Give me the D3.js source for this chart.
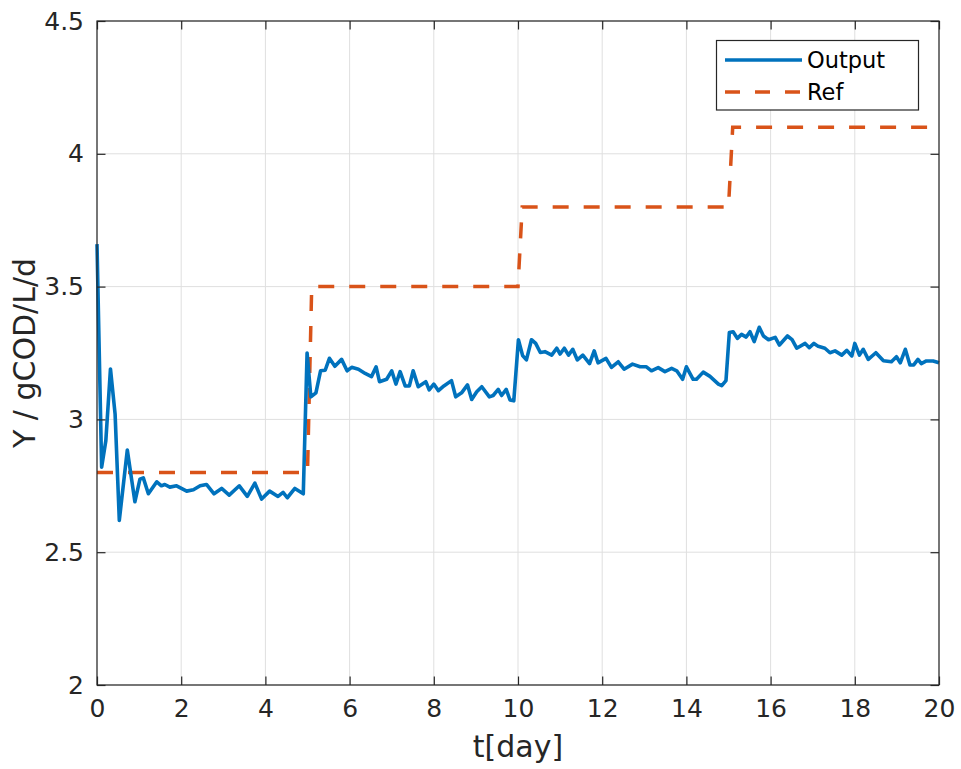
<!DOCTYPE html>
<html><head><meta charset="utf-8">
<script src="https://cdn.jsdelivr.net/npm/d3@7"></script>
<style>body{margin:0;background:#fff}svg{display:block}</style>
</head><body>
<script>
const outT = [0,0.11,0.21,0.32,0.43,0.53,0.72,0.9,1.02,1.1,1.22,1.42,1.53,1.61,1.73,1.89,2.13,2.29,2.45,2.6,2.78,2.96,3.14,3.38,3.57,3.75,3.91,4.1,4.3,4.42,4.52,4.7,4.9,
4.99,5.08,5.2,5.31,5.42,5.52,5.65,5.81,5.94,6.05,6.21,6.37,6.52,6.63,6.71,6.88,7.0,7.1,7.2,7.32,7.42,7.51,7.63,7.81,7.89,8.0,8.11,8.24,8.42,8.52,8.66,8.8,8.9,9.02,9.14,9.32,9.41,9.53,9.61,9.72,9.81,9.9,
10.01,10.11,10.2,10.32,10.42,10.53,10.64,10.8,10.92,11.0,11.1,11.2,11.3,11.41,11.54,11.7,11.81,11.9,12.09,12.22,12.38,12.52,12.72,12.9,13.05,13.17,13.33,13.49,13.65,13.77,13.91,14.0,14.16,14.24,14.4,14.56,14.76,14.84,14.94,
15.02,15.11,15.21,15.31,15.42,15.51,15.61,15.73,15.83,15.95,16.11,16.21,16.4,16.51,16.62,16.82,16.92,17.03,17.13,17.29,17.41,17.53,17.69,17.81,17.93,18.0,18.11,18.2,18.32,18.5,18.68,18.87,18.99,19.08,19.2,19.31,19.4,19.5,19.58,19.7,19.86,20];
const outY = [3.66,2.82,2.92,3.19,3.02,2.62,2.885,2.69,2.775,2.78,2.72,2.765,2.75,2.755,2.745,2.75,2.73,2.735,2.75,2.755,2.72,2.74,2.715,2.75,2.71,2.76,2.70,2.73,2.71,2.725,2.705,2.74,2.72,
3.25,3.085,3.10,3.183,3.185,3.23,3.20,3.226,3.183,3.196,3.189,3.173,3.161,3.198,3.142,3.151,3.183,3.133,3.18,3.126,3.126,3.183,3.123,3.142,3.111,3.133,3.108,3.126,3.146,3.085,3.10,3.13,3.075,3.104,3.123,3.085,3.09,3.113,3.09,3.113,3.073,3.07,
3.30,3.24,3.224,3.30,3.286,3.252,3.255,3.242,3.268,3.246,3.268,3.242,3.264,3.224,3.242,3.21,3.258,3.213,3.23,3.196,3.217,3.189,3.208,3.198,3.198,3.183,3.195,3.18,3.192,3.183,3.151,3.198,3.151,3.151,3.178,3.162,3.133,3.127,3.146,
3.327,3.33,3.305,3.32,3.31,3.33,3.293,3.347,3.314,3.30,3.309,3.28,3.314,3.30,3.268,3.286,3.27,3.286,3.275,3.268,3.251,3.258,3.242,3.26,3.239,3.286,3.242,3.264,3.226,3.251,3.221,3.217,3.236,3.213,3.264,3.205,3.205,3.226,3.21,3.22,3.22,3.213];
const refT = [0,5.0,5.1,10.0,10.1,15.0,15.1,20];
const refY = [2.8,2.8,3.5,3.5,3.8,3.8,4.1,4.1];
const xTicks = [0,2,4,6,8,10,12,14,16,18,20];
const yTicks = [2,2.5,3,3.5,4,4.5];
const seriesNames = ["Output","Ref"];
const xLabel = "t[day]";
const yLabel = "Y / gCOD/L/d";

const W=961,H=769, L=97,R=939,T=21,B=685;
const font = "'DejaVu Sans', sans-serif";
const textCol = "#262626";
const svg = d3.select("body").append("svg").attr("width",W).attr("height",H);
const x = d3.scaleLinear().domain([0,20]).range([L,R]);
const y = d3.scaleLinear().domain([2,4.5]).range([B,T]);

// grid
const g = svg.append("g");
g.selectAll(".gx").data(xTicks).enter().append("line")
 .attr("x1",d=>x(d)).attr("x2",d=>x(d)).attr("y1",T).attr("y2",B)
 .attr("stroke","#dfdfdf").attr("stroke-width",1);
g.selectAll(".gy").data(yTicks).enter().append("line")
 .attr("y1",d=>y(d)).attr("y2",d=>y(d)).attr("x1",L).attr("x2",R)
 .attr("stroke","#dfdfdf").attr("stroke-width",1);

// lines
const ref = refT.map((t,i)=>[t,refY[i]]);
const out = outT.map((t,i)=>[t,outY[i]]);
const line = d3.line().x(d=>x(d[0])).y(d=>y(d[1]));
svg.append("path").datum(ref).attr("d",line).attr("fill","none")
 .attr("stroke","#D95319").attr("stroke-width",3.5).attr("stroke-dasharray","16,15");
svg.append("path").datum(out).attr("d",line).attr("fill","none")
 .attr("stroke","#0072BD").attr("stroke-width",3.6).attr("stroke-linejoin","round");

// axes
const tl = 8.5;
const xAxB = d3.axisBottom(x).tickValues(xTicks).tickSize(-tl).tickPadding(14).tickFormat(d3.format("d"));
const xAxT = d3.axisTop(x).tickValues(xTicks).tickSize(-tl).tickFormat("");
const yAxL = d3.axisLeft(y).tickValues(yTicks).tickSize(-tl).tickPadding(13).tickFormat(d=>String(d));
const yAxR = d3.axisRight(y).tickValues(yTicks).tickSize(-tl).tickFormat("");
function style(sel){
  sel.select(".domain").attr("stroke",textCol).attr("stroke-width",1.2);
  sel.selectAll(".tick line").attr("stroke",textCol).attr("stroke-width",1.2);
  sel.selectAll("text").attr("fill",textCol).style("font-family",font).style("font-size","25px");
}
svg.append("g").attr("transform",`translate(0,${B})`).call(xAxB).call(style);
svg.append("g").attr("transform",`translate(0,${T})`).call(xAxT).call(style);
svg.append("g").attr("transform",`translate(${L},0)`).call(yAxL).call(style);
svg.append("g").attr("transform",`translate(${R},0)`).call(yAxR).call(style);
svg.selectAll(".domain").attr("d",null);
svg.append("rect").attr("x",L).attr("y",T).attr("width",R-L).attr("height",B-T)
 .attr("fill","none").attr("stroke",textCol).attr("stroke-width",1.2);

// labels
svg.append("text").attr("x",(L+R)/2).attr("y",757).attr("text-anchor","middle")
 .attr("fill",textCol).style("font-family",font).style("font-size","30px").text(xLabel);
svg.append("text").attr("transform",`translate(35,${(T+B)/2}) rotate(-90)`).attr("text-anchor","middle")
 .attr("fill",textCol).style("font-family",font).style("font-size","30px").text(yLabel);

// legend
const lg = svg.append("g");
lg.append("rect").attr("x",716.5).attr("y",40.5).attr("width",202).attr("height",69.5)
 .attr("fill","#fff").attr("stroke",textCol).attr("stroke-width",1.2);
const legItems = [{name:seriesNames[0],col:"#0072BD",dash:null,yy:60},{name:seriesNames[1],col:"#D95319",dash:"15,15",yy:92}];
legItems.forEach(it=>{
  lg.append("line").attr("x1",725).attr("x2",802).attr("y1",it.yy).attr("y2",it.yy)
   .attr("stroke",it.col).attr("stroke-width",3.5).attr("stroke-dasharray",it.dash);
  lg.append("text").attr("x",807).attr("y",it.yy).attr("dy","0.35em").attr("fill","#000")
   .style("font-family",font).style("font-size","22.5px").text(it.name);
});
</script>
</body></html>
